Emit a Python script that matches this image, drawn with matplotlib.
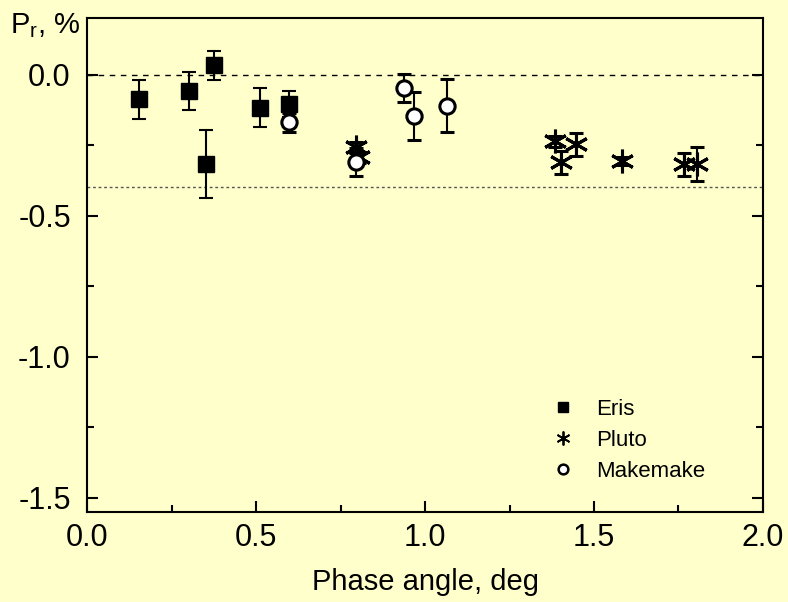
import matplotlib.pyplot as plt
from matplotlib.lines import Line2D

plt.rcParams['font.family'] = ['Liberation Sans', 'DejaVu Sans']

bg = '#FFFFCC'

# Eris
eris_x = [0.152, 0.30, 0.376, 0.352, 0.512, 0.597]
eris_y = [-0.088, -0.058, 0.032, -0.316, -0.117, -0.106]
eris_err = [0.068, 0.068, 0.05, 0.12, 0.07, 0.046]

# Pluto
pluto_x = [0.795, 0.805, 1.385, 1.403, 1.447, 1.583, 1.766, 1.804]
pluto_y = [-0.258, -0.293, -0.237, -0.311, -0.247, -0.307, -0.318, -0.318]
pluto_err = [0.02, 0.02, 0.02, 0.04, 0.04, 0.015, 0.04, 0.06]

# Makemake
make_x = [0.597, 0.795, 0.937, 0.966, 1.066]
make_y = [-0.17, -0.31, -0.047, -0.148, -0.11]
make_err = [0.035, 0.05, 0.05, 0.085, 0.095]

fig = plt.figure(figsize=(7.88, 6.02), dpi=100, facecolor=bg)
ax = fig.add_axes([0.111, 0.1495, 0.857, 0.8205], facecolor=bg)

ax.axhline(0.0, color='black', lw=1, ls=(0, (4, 4)), zorder=1)
ax.axhline(-0.4, color='#555555', lw=1, ls=(0, (2, 2)), zorder=1)

star = (6, 2, 0)
ekw = dict(ecolor='black', elinewidth=1.5, capsize=5, capthick=1.5, ls='none')
ax.errorbar(eris_x, eris_y, yerr=eris_err, marker='s', ms=11,
            mfc='black', mec='black', zorder=3, **ekw)
ax.errorbar(pluto_x, pluto_y, yerr=pluto_err, marker=star, ms=17,
            mfc='black', mec='black', mew=2.2, zorder=4, **ekw)
ax.errorbar(make_x, make_y, yerr=make_err, marker='o', ms=11,
            mfc='white', mec='black', mew=2.2, zorder=5, **ekw)

ax.set_xlim(0, 2.0)
ax.set_ylim(-1.55, 0.2)
ax.set_xticks([0.0, 0.5, 1.0, 1.5, 2.0])
ax.set_xticks([0.25, 0.75, 1.25, 1.75], minor=True)
ax.set_yticks([-1.5, -1.0, -0.5, 0.0])
ax.set_yticks([-1.25, -0.75, -0.25], minor=True)
ax.set_xticklabels(['0.0', '0.5', '1.0', '1.5', '2.0'])
ax.set_yticklabels(['-1.5', '-1.0', '-0.5', '0.0'])
ax.tick_params(which='both', direction='in', right=True, top=False, width=1.5)
ax.tick_params(axis='x', labelsize=22, pad=8)
ax.tick_params(axis='y', labelsize=22, pad=12)
ax.tick_params(which='major', length=8)
ax.tick_params(which='minor', length=5)
for s in ax.spines.values():
    s.set_linewidth(1.5)

ax.set_xlabel('Phase angle, deg', fontsize=21, labelpad=11)
fig.text(0.013, 0.958, r'P$_\mathregular{r}$, %', fontsize=21, ha='left', va='center')

handles = [
    Line2D([], [], ls='none', marker='s', ms=7, mfc='black', mec='black'),
    Line2D([], [], ls='none', marker=star, ms=10, mec='black', mew=1.3),
    Line2D([], [], ls='none', marker='o', ms=7, mfc='white', mec='black', mew=1.8),
]
ax.legend(handles, ['Eris', 'Pluto', 'Makemake'], loc='lower right',
          bbox_to_anchor=(0.945, 0.02), frameon=False, fontsize=16,
          handlelength=1.0, handletextpad=1.0, labelspacing=0.45)

fig.savefig('out.png', dpi=100, facecolor=bg)
